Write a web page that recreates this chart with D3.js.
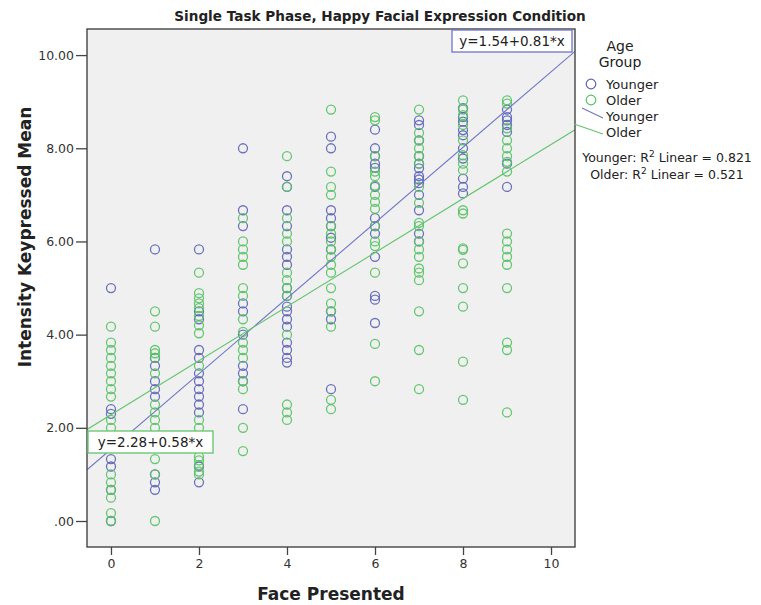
<!DOCTYPE html>
<html>
<head>
<meta charset="utf-8">
<script src="https://cdn.jsdelivr.net/npm/d3@7"></script>
<style>
  html, body { margin: 0; padding: 0; background: #ffffff; }
  svg { display: block; font-family: "DejaVu Sans", Verdana, sans-serif; }
</style>
</head>
<body>
<svg id="chart" width="761" height="605"></svg>
<script>
// Face presented (x categories)
const faces = [0, 1, 2, 3, 4, 5, 6, 7, 8, 9];

// Intensity keypressed means, younger participants, one list per face
const youngerValues = [
  [5.0, 2.4, 2.3, 1.33, 1.17, 0.67, 0.0],
  [5.83, 3.5, 3.33, 3.0, 2.83, 2.67, 1.0, 0.83, 0.67],
  [5.83, 4.5, 4.33, 3.67, 3.5, 3.17, 3.0, 2.83, 2.67, 2.5, 2.33, 1.17, 0.83],
  [8.0, 6.67, 6.33, 4.67, 4.5, 4.0, 3.33, 3.17, 3.0, 2.4],
  [7.4, 7.17, 6.67, 6.33, 5.83, 5.67, 5.5, 5.0, 4.83, 4.6, 4.5, 4.33, 4.17, 3.83, 3.67, 3.5, 3.4],
  [8.25, 8.0, 6.67, 6.5, 6.33, 6.08, 5.83, 4.5, 4.33, 2.83],
  [8.4, 8.0, 7.83, 7.67, 7.58, 7.17, 6.5, 6.33, 6.17, 5.67, 4.83, 4.75, 4.25],
  [8.6, 8.5, 8.17, 7.83, 7.67, 7.57, 7.4, 7.33, 7.25, 7.0, 6.67, 6.17, 6.0],
  [8.86, 8.67, 8.57, 8.39, 8.28, 8.0, 7.78, 7.35, 7.17, 7.03],
  [8.83, 8.67, 8.6, 8.5, 8.35, 7.67, 7.17]
];

// Intensity keypressed means, older participants, one list per face
const olderValues = [
  [4.17, 3.83, 3.67, 3.5, 3.33, 3.17, 3.0, 2.83, 2.67, 2.17, 2.0, 1.0, 0.83, 0.67, 0.5, 0.17, 0.0],
  [4.5, 4.17, 3.67, 3.6, 3.5, 3.17, 2.5, 2.33, 2.17, 2.0, 1.33, 1.0, 0.0],
  [5.33, 4.89, 4.78, 4.67, 4.57, 4.4, 4.2, 4.03, 3.33, 2.17, 2.0, 1.38, 1.3, 1.2, 1.06, 1.0],
  [6.5, 6.0, 5.83, 5.67, 5.5, 5.0, 4.83, 4.33, 4.06, 3.83, 3.67, 3.5, 3.0, 2.83, 2.0, 1.5],
  [7.83, 7.17, 6.5, 6.17, 6.0, 5.33, 5.17, 5.0, 4.83, 4.0, 2.5, 2.33, 2.17],
  [8.83, 7.5, 7.17, 7.0, 6.33, 6.17, 6.0, 5.83, 5.67, 5.5, 5.33, 5.0, 4.67, 4.5, 4.17, 2.6, 2.4],
  [8.67, 8.6, 7.83, 7.5, 7.4, 7.2, 7.0, 6.85, 6.7, 6.33, 6.0, 5.9, 5.33, 3.8, 3.0],
  [8.83, 8.33, 8.17, 8.0, 7.83, 7.67, 7.17, 6.83, 6.4, 6.33, 6.0, 5.83, 5.67, 5.42, 5.33, 5.17, 4.5, 3.67, 2.83],
  [9.03, 8.83, 8.71, 8.5, 8.17, 7.85, 7.67, 7.53, 6.67, 6.6, 5.85, 5.82, 5.53, 5.0, 4.6, 3.42, 2.6],
  [9.03, 8.96, 8.43, 8.17, 8.0, 7.83, 7.71, 7.5, 6.17, 6.0, 5.83, 5.67, 5.5, 5.0, 3.83, 3.67, 2.33]
];

// Linear fits per age group
const groups = ["Younger", "Older"];
const fitIntercepts = [1.54, 2.28];
const fitSlopes = [0.81, 0.58];
const rSquared = [0.821, 0.521];

const xTicks = [0, 2, 4, 6, 8, 10];
const yTicks = [0, 2, 4, 6, 8, 10];

const colors = { Younger: "#5c64b6", Older: "#55c263" };
const lineColors = { Younger: "#6e76c6", Older: "#62c56c" };

const svg = d3.select("#chart");
const frame = { left: 87, right: 575, top: 29, bottom: 547 };

const x = d3.scaleLinear().domain([-0.545, 10.545]).range([frame.left, frame.right]);
const y = d3.scaleLinear().domain([-0.558, 10.56]).range([frame.bottom, frame.top]);

// Title
svg.append("text")
  .attr("x", 380).attr("y", 21)
  .attr("text-anchor", "middle")
  .attr("font-size", 13.6).attr("font-weight", "bold")
  .attr("fill", "#222")
  .text("Single Task Phase, Happy Facial Expression Condition");

// Plot background
svg.append("rect")
  .attr("x", frame.left).attr("y", frame.top)
  .attr("width", frame.right - frame.left).attr("height", frame.bottom - frame.top)
  .attr("fill", "#f0f0f0");

svg.append("defs").append("clipPath").attr("id", "plotClip")
  .append("rect")
  .attr("x", frame.left).attr("y", frame.top)
  .attr("width", frame.right - frame.left).attr("height", frame.bottom - frame.top);

const plot = svg.append("g").attr("clip-path", "url(#plotClip)");

// Scatter points
function pointsFor(values, group) {
  const pts = [];
  values.forEach((list, i) => list.forEach(v => pts.push({ face: faces[i], value: v, group })));
  return pts;
}
const allPoints = pointsFor(youngerValues, "Younger").concat(pointsFor(olderValues, "Older"));

plot.selectAll("circle.pt")
  .data(allPoints)
  .join("circle")
  .attr("class", "pt")
  .attr("cx", d => x(d.face))
  .attr("cy", d => y(d.value))
  .attr("r", 4.5)
  .attr("fill", "none")
  .attr("stroke", d => colors[d.group])
  .attr("stroke-width", 1.3)
  .attr("stroke-opacity", 0.9);

// Fit lines
const xd = x.domain();
groups.forEach((g, i) => {
  plot.append("line")
    .attr("x1", x(xd[0])).attr("y1", y(fitIntercepts[i] + fitSlopes[i] * xd[0]))
    .attr("x2", x(xd[1])).attr("y2", y(fitIntercepts[i] + fitSlopes[i] * xd[1]))
    .attr("stroke", lineColors[g])
    .attr("stroke-width", 1.1);
});

// Frame
svg.append("rect")
  .attr("x", frame.left).attr("y", frame.top)
  .attr("width", frame.right - frame.left).attr("height", frame.bottom - frame.top)
  .attr("fill", "none").attr("stroke", "#444").attr("stroke-width", 1.4);

// Axes
const yFmt = v => d3.format(".2f")(v).replace(/^0\./, ".");
const yAxis = svg.append("g")
  .attr("transform", `translate(${frame.left},0)`)
  .call(d3.axisLeft(y).tickValues(yTicks).tickFormat(yFmt).tickSize(11).tickSizeOuter(0).tickPadding(2));
yAxis.select(".domain").remove();
yAxis.selectAll("line").attr("stroke", "#444").attr("stroke-width", 1.3);
yAxis.selectAll("text").attr("font-size", 12.5).attr("fill", "#333").attr("font-family", "DejaVu Sans, sans-serif");

const xAxis = svg.append("g")
  .attr("transform", `translate(0,${frame.bottom})`)
  .call(d3.axisBottom(x).tickValues(xTicks).tickFormat(d3.format("d")).tickSize(8).tickSizeOuter(0).tickPadding(4));
xAxis.select(".domain").remove();
xAxis.selectAll("line").attr("stroke", "#444").attr("stroke-width", 1.3);
xAxis.selectAll("text").attr("font-size", 12.5).attr("fill", "#333").attr("font-family", "DejaVu Sans, sans-serif");

// Axis titles
svg.append("text")
  .attr("x", 331).attr("y", 600)
  .attr("text-anchor", "middle")
  .attr("font-size", 17).attr("font-weight", "bold").attr("fill", "#222")
  .text("Face Presented");

svg.append("text")
  .attr("transform", "translate(31,237) rotate(-90)")
  .attr("text-anchor", "middle")
  .attr("font-size", 17).attr("font-weight", "bold").attr("fill", "#222")
  .text("Intensity Keypressed Mean");

// Equation labels
function eqLabel(i, bx, by, w) {
  const g = svg.append("g");
  g.append("rect")
    .attr("x", bx).attr("y", by).attr("width", w).attr("height", 22)
    .attr("fill", "#ffffff").attr("stroke", lineColors[groups[i]]).attr("stroke-width", 1.3);
  g.append("text")
    .attr("x", bx + w / 2).attr("y", by + 16)
    .attr("text-anchor", "middle")
    .attr("font-size", 13.5).attr("fill", "#222")
    .text(`y=${fitIntercepts[i].toFixed(2)}+${fitSlopes[i].toFixed(2)}*x`);
}
eqLabel(0, 452, 30, 120);
eqLabel(1, 88, 431, 125);

// Legend
const lg = svg.append("g").attr("font-size", 13).attr("fill", "#222");
lg.append("text").attr("x", 620).attr("y", 51).attr("text-anchor", "middle").attr("font-size", 14).text("Age");
lg.append("text").attr("x", 620).attr("y", 67).attr("text-anchor", "middle").attr("font-size", 14).text("Group");

groups.forEach((g, i) => {
  const cy = 84 + i * 16;
  lg.append("circle").attr("cx", 591).attr("cy", cy).attr("r", 4.8)
    .attr("fill", "none").attr("stroke", colors[g]).attr("stroke-width", 1.2);
  lg.append("text").attr("x", 606).attr("y", cy + 5).text(g);
});
groups.forEach((g, i) => {
  const ly = 116 + i * 16;
  lg.append("line")
    .attr("x1", 582 - i * 8).attr("y1", ly - 8)
    .attr("x2", 603).attr("y2", ly + 2)
    .attr("stroke", lineColors[g]).attr("stroke-width", 1.1);
  lg.append("text").attr("x", 606).attr("y", ly + 5).text(g);
});

// R-squared notes
groups.forEach((g, i) => {
  const t = lg.append("text")
    .attr("x", 667).attr("y", 162 + i * 17)
    .attr("text-anchor", "middle").attr("font-size", 12.5);
  t.append("tspan").text(`${g}: R`);
  t.append("tspan").attr("dy", -5).attr("font-size", 9).text("2");
  t.append("tspan").attr("dy", 5).text(` Linear = ${rSquared[i].toFixed(3)}`);
});
</script>
</body>
</html>
